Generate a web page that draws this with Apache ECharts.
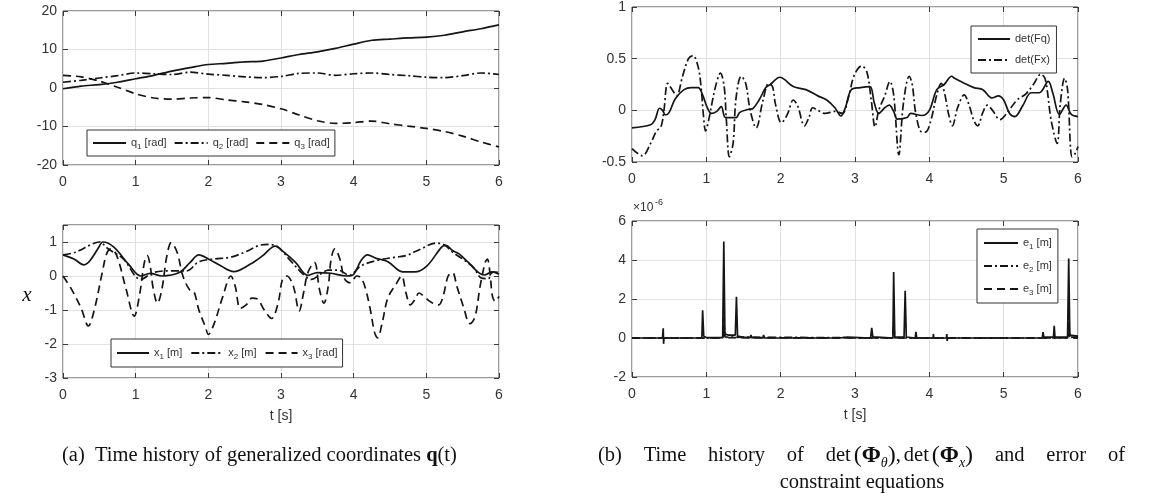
<!DOCTYPE html>
<html><head><meta charset="utf-8">
<script src="https://cdn.jsdelivr.net/npm/echarts@6/dist/echarts.min.js"></script>
<style>html,body{margin:0;padding:0;background:#fff}#c{width:1153px;height:499px}</style>
</head><body><div id="c"></div>
<script>
// ---------- data ----------
const xTicks = [0, 1, 2, 3, 4, 5, 6];
const tq = [0,0.25,0.5,0.75,1,1.25,1.5,1.75,2,2.25,2.5,2.75,3,3.25,3.5,3.75,4,4.25,4.5,4.75,5,5.25,5.5,5.75,6];
const q1 = [-0.2,0.5,0.9,1.5,2.4,3.3,4.4,5.3,6.1,6.4,6.8,7.0,7.8,8.7,9.4,10.3,11.4,12.4,12.7,13.0,13.2,13.7,14.6,15.4,16.4];
const q2 = [1.5,2.0,2.6,3.2,3.9,3.7,3.5,4.1,3.6,3.3,2.9,2.7,3.0,3.8,3.9,3.3,3.7,3.9,3.5,3.2,2.8,2.7,3.2,3.9,3.5];
const q3 = [3.3,2.9,1.8,0.2,-1.5,-2.6,-2.9,-2.6,-2.5,-3.1,-3.6,-4.3,-5.4,-7.0,-8.5,-9.2,-9.0,-8.6,-9.3,-9.9,-10.5,-11.3,-12.5,-14.0,-15.3];

const x1Data = [[0,0.62],[0.15,0.5],[0.29,0.33],[0.37,0.45],[0.48,0.8],[0.55,1.0],[0.7,0.85],[0.9,0.35],[1.07,0.0],[1.2,0.08],[1.36,0.0],[1.6,0.1],[1.75,0.4],[1.87,0.62],[2.0,0.5],[2.17,0.3],[2.35,0.13],[2.58,0.35],[2.75,0.6],[2.92,0.88],[3.04,0.7],[3.2,0.4],[3.37,0.02],[3.5,0.1],[3.69,0.08],[3.9,0.0],[4.0,0.05],[4.1,0.45],[4.19,0.62],[4.31,0.52],[4.47,0.42],[4.68,0.12],[4.84,0.12],[5.01,0.3],[5.21,0.85],[5.27,0.9],[5.36,0.75],[5.45,0.65],[5.6,0.35],[5.72,0.1],[5.8,0.03],[5.9,0.12],[6.0,0.05]];
const x2Data = [[0,0.62],[0.17,0.7],[0.41,0.95],[0.5,1.0],[0.62,0.8],[0.83,0.5],[1.07,-0.1],[1.24,0.1],[1.45,0.15],[1.7,0.15],[1.87,0.42],[2.08,0.5],[2.3,0.55],[2.5,0.7],[2.7,0.9],[2.83,0.93],[2.96,0.85],[3.13,0.45],[3.33,0.0],[3.42,-0.1],[3.54,0.05],[3.65,0.17],[3.79,0.17],[3.94,0.02],[4.1,0.3],[4.31,0.45],[4.56,0.55],[4.72,0.6],[4.93,0.8],[5.13,0.97],[5.26,0.9],[5.36,0.7],[5.5,0.5],[5.65,0.25],[5.75,-0.05],[5.85,-0.08],[5.92,0.12],[6.0,0.1]];
const x3Data = [[0,0.0],[0.12,-0.4],[0.25,-0.95],[0.35,-1.47],[0.43,-1.0],[0.54,0.1],[0.6,0.65],[0.66,0.8],[0.74,0.6],[0.87,-0.4],[0.98,-1.18],[1.05,-0.6],[1.12,0.4],[1.16,0.6],[1.2,0.3],[1.24,-0.35],[1.3,-0.8],[1.36,-0.4],[1.43,0.6],[1.49,0.98],[1.57,0.7],[1.65,0.0],[1.74,-0.4],[1.8,-0.45],[1.87,-1.0],[1.96,-1.5],[2.0,-1.72],[2.08,-1.4],[2.2,-0.6],[2.31,0.0],[2.37,-0.3],[2.44,-0.95],[2.52,-0.85],[2.6,-0.65],[2.67,-0.67],[2.77,-1.0],[2.87,-1.25],[2.96,-0.8],[3.02,-0.1],[3.08,0.0],[3.17,-0.3],[3.25,-1.03],[3.31,-0.5],[3.37,0.1],[3.46,0.4],[3.53,-0.4],[3.59,-0.8],[3.65,-0.3],[3.69,0.5],[3.74,0.8],[3.81,0.5],[3.86,0.0],[3.9,-0.15],[3.96,-0.2],[4.04,0.0],[4.1,-0.05],[4.16,-0.35],[4.23,-1.0],[4.29,-1.68],[4.33,-1.82],[4.39,-1.4],[4.47,-0.65],[4.58,-0.25],[4.66,0.0],[4.72,-0.5],[4.78,-0.85],[4.84,-0.7],[4.9,-0.5],[4.99,-0.65],[5.09,-0.8],[5.17,-0.85],[5.23,-0.6],[5.3,0.0],[5.36,0.1],[5.42,-0.3],[5.51,-0.9],[5.6,-1.4],[5.67,-1.2],[5.74,-0.3],[5.81,0.4],[5.84,0.5],[5.88,0.0],[5.91,-0.6],[5.95,-0.75],[6.0,-0.6]];

const fqData = [[0,-0.17],[0.25,-0.14],[0.31,-0.09],[0.37,0.02],[0.41,0.0],[0.45,-0.045],[0.5,-0.02],[0.58,0.11],[0.7,0.2],[0.8,0.22],[0.89,0.22],[0.95,0.15],[1.01,0.03],[1.07,-0.03],[1.14,-0.01],[1.2,0.035],[1.26,-0.07],[1.4,-0.07],[1.45,-0.02],[1.57,0.01],[1.63,0.02],[1.71,0.1],[1.8,0.22],[1.86,0.25],[1.99,0.32],[2.05,0.3],[2.17,0.23],[2.34,0.2],[2.5,0.14],[2.62,0.1],[2.73,0.025],[2.81,-0.055],[2.87,0.025],[2.95,0.2],[3.07,0.22],[3.2,0.23],[3.26,0.07],[3.32,-0.03],[3.4,0.025],[3.46,0.05],[3.52,-0.01],[3.57,-0.085],[3.7,-0.07],[3.75,-0.03],[3.9,-0.05],[4.0,0.0],[4.1,0.2],[4.2,0.25],[4.3,0.33],[4.34,0.31],[4.45,0.27],[4.6,0.22],[4.72,0.2],[4.84,0.12],[4.93,0.14],[5.0,0.1],[5.08,-0.03],[5.15,-0.06],[5.26,0.05],[5.37,0.17],[5.48,0.17],[5.6,0.28],[5.66,0.17],[5.75,-0.04],[5.84,0.05],[5.91,-0.04],[6.0,-0.06]];
const fxData = [[0,-0.37],[0.14,-0.44],[0.25,-0.32],[0.33,-0.2],[0.39,-0.16],[0.43,0.0],[0.48,0.26],[0.54,0.2],[0.6,0.14],[0.68,0.33],[0.76,0.5],[0.82,0.53],[0.89,0.42],[0.93,0.22],[0.96,-0.04],[0.99,-0.2],[1.03,-0.1],[1.12,0.22],[1.19,0.36],[1.24,0.23],[1.27,-0.1],[1.31,-0.45],[1.36,-0.32],[1.4,0.12],[1.47,0.33],[1.53,0.26],[1.59,0.0],[1.67,-0.17],[1.76,0.09],[1.84,0.26],[1.89,0.23],[1.93,0.06],[2.01,-0.12],[2.09,-0.04],[2.17,0.1],[2.23,0.04],[2.32,-0.15],[2.38,-0.07],[2.43,0.025],[2.5,0.0],[2.6,-0.03],[2.73,-0.01],[2.83,-0.03],[2.91,0.12],[2.99,0.34],[3.09,0.43],[3.16,0.37],[3.22,0.09],[3.27,-0.16],[3.32,0.0],[3.4,0.14],[3.47,0.28],[3.52,0.15],[3.59,-0.43],[3.65,0.06],[3.73,0.33],[3.77,0.25],[3.82,-0.04],[3.9,-0.21],[3.95,-0.21],[4.02,-0.1],[4.1,0.15],[4.16,0.26],[4.21,0.15],[4.26,-0.04],[4.31,-0.15],[4.38,0.025],[4.47,0.15],[4.53,0.06],[4.6,-0.1],[4.65,-0.15],[4.72,-0.02],[4.78,0.05],[4.85,0.0],[4.95,-0.09],[5.05,-0.02],[5.18,0.1],[5.3,0.16],[5.4,0.25],[5.5,0.35],[5.56,0.3],[5.64,-0.1],[5.72,-0.32],[5.76,0.05],[5.82,0.31],[5.86,0.2],[5.92,-0.45],[5.96,-0.42],[6.0,-0.35]];

// constraint errors, in units of 1e-6
const e1Data = [[0,0],[0.41,0],[0.42,0.5],[0.425,-0.3],[0.43,0],[0.94,0],[0.95,1.42],[0.965,0.1],[1.0,0.02],[1.22,0.02],[1.235,4.95],[1.25,0.2],[1.3,0.15],[1.39,0.15],[1.405,2.12],[1.42,0.1],[1.5,0.03],[1.59,0.02],[1.6,0.15],[1.61,0.02],[1.76,0.0],[1.77,0.15],[1.78,0.0],[1.95,0],[1.955,0.1],[1.96,-0.1],[1.965,0],[2.12,0],[2.125,0.05],[2.13,0],[2.25,0],[2.255,0.1],[2.26,0],[2.4,0],[2.405,0.05],[2.41,0],[2.78,0],[2.79,0.04],[2.9,0.04],[2.91,0],[3.21,0],[3.225,0.52],[3.24,0.05],[3.3,0.05],[3.31,0],[3.51,0],[3.52,3.38],[3.535,0.05],[3.66,0.05],[3.675,2.42],[3.69,0.05],[3.81,0],[3.82,0.32],[3.83,0],[4.05,0],[4.055,0.2],[4.06,0],[4.23,0],[4.235,0.2],[4.24,-0.15],[4.245,0],[4.4,0],[4.405,0.1],[4.41,0],[4.58,0],[4.585,0.1],[4.59,0],[4.73,0],[4.735,0.1],[4.74,-0.05],[4.745,0],[5.52,0],[5.53,0.3],[5.54,0.05],[5.67,0.05],[5.68,0.62],[5.69,0.05],[5.86,0.05],[5.875,4.07],[5.89,0.15],[6.0,0.1]];
const e2Data = [[0,0],[1.22,0],[1.235,1.1],[1.25,0.05],[3.51,0],[3.52,0.8],[3.535,0],[5.86,0],[5.875,1.0],[5.89,0.05],[6.0,0.05]];
const e3Data = [[0,0],[1.22,0],[1.235,0.6],[1.25,0.02],[3.51,0],[3.52,0.4],[3.535,0],[5.86,0],[5.875,0.5],[5.89,0.02],[6.0,0.02]];

// ---------- styling ----------
const SANS = 'Liberation Sans';
const SERIF = 'Liberation Serif';
const INK = '#151515';
const TXT = '#333';
const BOX = '#3a3a3a';
const DASH = [8, 5];
const DASHDOT = [8, 3, 2, 3];

const grids = [
  {left: 63, top: 11, width: 436, height: 154},
  {left: 63, top: 225, width: 436, height: 153},
  {left: 632, top: 7, width: 446, height: 155},
  {left: 632, top: 221, width: 446, height: 156}
].map(g => Object.assign({show: true, borderColor: BOX, borderWidth: 1, backgroundColor: '#fff'}, g));

const tick = {show: true, inside: true, length: 5, lineStyle: {color: BOX}};
const noLine = {show: false, onZero: false};
function xAxis(i, name) {
  return {
    type: 'value', gridIndex: i, position: 'bottom', min: xTicks[0], max: xTicks[xTicks.length - 1], interval: 1,
    axisLine: noLine, axisTick: tick,
    splitLine: {show: true, lineStyle: {color: '#e2e2e2', width: 1}},
    axisLabel: {fontSize: 14, color: TXT, fontFamily: SANS, margin: 10},
    name: name || '', nameLocation: 'middle', nameGap: 31,
    nameTextStyle: {fontSize: 14, color: TXT, fontFamily: SANS}
  };
}
function xAxisTop(i) {
  return {type: 'value', gridIndex: i, position: 'top', min: xTicks[0], max: xTicks[xTicks.length - 1], interval: 1,
    axisLine: noLine, axisTick: tick, splitLine: {show: false}, axisLabel: {show: false}};
}
function yAxis(i, min, max, interval) {
  return {
    type: 'value', gridIndex: i, position: 'left', min, max, interval,
    axisLine: noLine, axisTick: tick,
    splitLine: {show: true, lineStyle: {color: '#e2e2e2', width: 1}},
    axisLabel: {fontSize: 14, color: TXT, fontFamily: SANS, margin: 6,
      formatter: v => (Math.abs(v / interval - Math.round(v / interval)) < 1e-9 ? String(+v.toFixed(3)) : '')}
  };
}
function yAxisRight(i, min, max, interval) {
  return {type: 'value', gridIndex: i, position: 'right', min, max, interval,
    axisLine: noLine, axisTick: tick, splitLine: {show: false}, axisLabel: {show: false}};
}
function line(name, data, i, type, smooth) {
  return {
    name, type: 'line', xAxisIndex: i, yAxisIndex: i, data, symbol: 'none', showSymbol: false,
    smooth: smooth, animation: false, silent: true,
    lineStyle: {color: INK, width: 1.7, type: type},
    itemStyle: {color: INK}
  };
}

const legendText = {
  q1: 'q{s|1} [rad]', q2: 'q{s|2} [rad]', q3: 'q{s|3} [rad]',
  x1: 'x{s|1} [m]', x2: 'x{s|2} [m]', x3: 'x{s|3} [rad]',
  Fq: 'det(Fq)', Fx: 'det(Fx)',
  e1: 'e{s|1} [m]', e2: 'e{s|2} [m]', e3: 'e{s|3} [m]'
};
function legend(data, left, top, orient, itemGap, padding, itemWidth) {
  return {
    data, left, top, orient, itemGap, padding, itemWidth, itemHeight: 10,
    borderColor: '#333', borderWidth: 1, backgroundColor: '#fff', borderRadius: 0,
    selectedMode: false,
    itemStyle: {opacity: 0, borderWidth: 0},
    formatter: n => legendText[n],
    textStyle: {fontSize: 11, color: TXT, fontFamily: SANS, lineHeight: 16,
      rich: {s: {fontSize: 8, lineHeight: 8, verticalAlign: 'bottom', fontFamily: SANS, color: TXT}}}
  };
}

// ---------- captions (first line of (b) justified, like the typeset subcaption) ----------
const CAP = 20.5;
const ctx = document.createElement('canvas').getContext('2d');
function tw(text, size, weight, style) {
  ctx.font = (style || 'normal') + ' ' + (weight || 'normal') + ' ' + size + 'px "' + SERIF + '"';
  return ctx.measureText(text).width;
}
const PAR = 24, PHI = 23, SUB = 14, THIN = 3;
const richCap = {
  B: {fontSize: PHI, fontFamily: SERIF, fontWeight: 'bold', color: '#111', lineHeight: 28},
  P: {fontSize: PAR, fontFamily: SERIF, color: '#111', lineHeight: 28},
  s: {fontSize: SUB, fontFamily: SERIF, fontStyle: 'italic', color: '#111', lineHeight: 13, verticalAlign: 'bottom'},
  t: {width: THIN, fontSize: CAP, fontFamily: SERIF},
  b: {fontSize: CAP, fontFamily: SERIF, fontWeight: 'bold', color: '#111', lineHeight: 26}
};
const capB = ['(b)', 'Time', 'history', 'of', 'MATH', 'and', 'error', 'of'];
const mathText = 'det{t| }{P|(}{B|Φ}{s|θ}{P|)},{t| }det{t| }{P|(}{B|Φ}{s|x}{P|)}';
const mathW = 2 * tw('det', CAP) + 3 * THIN + 2 * tw('(', PAR) + 2 * tw(')', PAR) + 2 * tw('Φ', PHI, 'bold')
  + tw('θ', SUB, 'normal', 'italic') + tw('x', SUB, 'normal', 'italic') + tw(',', CAP);
const capBLeft = 598, capBRight = 1125;
const wordsW = capB.map(w => w === 'MATH' ? mathW : tw(w, CAP));
const gapB = (capBRight - capBLeft - wordsW.reduce((a, b) => a + b, 0)) / (capB.length - 1);
const capGraphics = [];
let cx = capBLeft;
capB.forEach((w, k) => {
  capGraphics.push({type: 'text', x: cx, y: 456, silent: true,
    style: {text: w === 'MATH' ? mathText : w, rich: richCap, fontSize: CAP, fontFamily: SERIF,
      fill: '#111', lineHeight: 26, align: 'left', verticalAlign: 'middle'}});
  cx += wordsW[k] + gapB;
});

const option = {
  backgroundColor: '#fff',
  animation: false,
  grid: grids,
  xAxis: [xAxis(0), xAxis(1, 't [s]'), xAxis(2), xAxis(3, 't [s]'), xAxisTop(0), xAxisTop(1), xAxisTop(2), xAxisTop(3)],
  yAxis: [yAxis(0, -20, 20, 10), yAxis(1, -3, 1.5, 1), yAxis(2, -0.5, 1, 0.5), yAxis(3, -2, 6, 2),
    yAxisRight(0, -20, 20, 10), yAxisRight(1, -3, 1.5, 1), yAxisRight(2, -0.5, 1, 0.5), yAxisRight(3, -2, 6, 2)],
  legend: [
    legend(['q1', 'q2', 'q3'], 87, 130, 'horizontal', 7, [5, 5], 33),
    legend(['x1', 'x2', 'x3'], 111, 339, 'horizontal', 8, [6, 5], 32),
    legend(['Fq', 'Fx'], 971, 26, 'vertical', 5, [5, 6], 32),
    legend(['e1', 'e2', 'e3'], 977, 229, 'vertical', 7, [6, 6], 34)
  ],
  series: [
    line('q1', tq.map((t, k) => [t, q1[k]]), 0, 'solid', 0.3),
    line('q2', tq.map((t, k) => [t, q2[k]]), 0, DASHDOT, 0.3),
    line('q3', tq.map((t, k) => [t, q3[k]]), 0, DASH, 0.3),
    line('x1', x1Data, 1, 'solid', 0.35),
    line('x2', x2Data, 1, DASHDOT, 0.35),
    line('x3', x3Data, 1, DASH, 0.35),
    line('Fq', fqData, 2, 'solid', 0.35),
    line('Fx', fxData, 2, DASHDOT, 0.35),
    line('e3', e3Data, 3, DASH, false),
    line('e2', e2Data, 3, DASHDOT, false),
    line('e1', e1Data, 3, 'solid', false)
  ],
  graphic: [
    {type: 'text', x: 27, y: 295, silent: true,
      style: {text: 'x', fontSize: 21, fontFamily: SERIF, fontStyle: 'italic', fill: '#111', align: 'center', verticalAlign: 'middle'}},
    {type: 'text', x: 633, y: 214, silent: true,
      style: {text: '×10', fontSize: 12, fontFamily: SANS, fill: TXT, align: 'left', verticalAlign: 'bottom'}},
    {type: 'text', x: 655, y: 207, silent: true,
      style: {text: '-6', fontSize: 9, fontFamily: SANS, fill: TXT, align: 'left', verticalAlign: 'bottom'}},
    {type: 'text', x: 62, y: 456, silent: true,
      style: {text: '(a)  Time history of generalized coordinates {b|q}(t)', rich: richCap,
        fontSize: CAP, fontFamily: SERIF, fill: '#111', lineHeight: 26, align: 'left', verticalAlign: 'middle'}},
    {type: 'text', x: 862, y: 483, silent: true,
      style: {text: 'constraint equations', fontSize: CAP, fontFamily: SERIF, fill: '#111', align: 'center', verticalAlign: 'middle'}}
  ].concat(capGraphics)
};

const chart = echarts.init(document.getElementById('c'), null, {renderer: 'canvas', width: 1153, height: 499});
chart.setOption(option);
</script>
</body></html>
